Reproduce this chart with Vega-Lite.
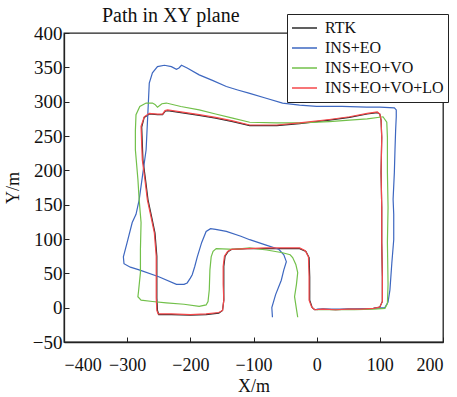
{
  "$schema": "https://vega.github.io/schema/vega-lite/v6.json",
  "width": 379,
  "height": 309,
  "autosize": {"type": "none"},
  "padding": {"left": 64, "top": 33, "right": 14, "bottom": 55},
  "background": "white",
  "config": {
    "font": "Liberation Serif",
    "view": {"stroke": "#222", "strokeWidth": 1.3},
    "axis": {"domainColor": "#222", "tickColor": "#222", "labelColor": "#111", "titleColor": "#111", "labelFont": "Liberation Serif", "titleFont": "Liberation Serif", "grid": false, "titleFontWeight": "normal"}
  },
  "title": {"text": "Path in XY plane", "anchor": "start", "frame": "group", "dx": 38, "dy": 20, "fontSize": 20, "font": "Liberation Serif", "fontWeight": "normal", "color": "#111", "offset": 8},
  "data": {"values": [
    {"s":"RTK","i":0,"x":-4,"y":-3},{"s":"RTK","i":1,"x":10,"y":-2},{"s":"RTK","i":2,"x":30,"y":-3},{"s":"RTK","i":3,"x":50,"y":-2},{"s":"RTK","i":4,"x":70,"y":-2},{"s":"RTK","i":5,"x":90,"y":-1},{"s":"RTK","i":6,"x":100,"y":1},{"s":"RTK","i":7,"x":104,"y":9},{"s":"RTK","i":8,"x":104,"y":45},{"s":"RTK","i":9,"x":103,"y":95},{"s":"RTK","i":10,"x":103,"y":146},{"s":"RTK","i":11,"x":102,"y":197},{"s":"RTK","i":12,"x":103,"y":248},{"s":"RTK","i":13,"x":102,"y":273},{"s":"RTK","i":14,"x":100,"y":282},{"s":"RTK","i":15,"x":96,"y":284},{"s":"RTK","i":16,"x":80,"y":282},{"s":"RTK","i":17,"x":52,"y":277},{"s":"RTK","i":18,"x":20,"y":273},{"s":"RTK","i":19,"x":-27,"y":268},{"s":"RTK","i":20,"x":-63,"y":265},{"s":"RTK","i":21,"x":-106,"y":265},{"s":"RTK","i":22,"x":-133,"y":271},{"s":"RTK","i":23,"x":-160,"y":276},{"s":"RTK","i":24,"x":-186,"y":280},{"s":"RTK","i":25,"x":-215,"y":284},{"s":"RTK","i":26,"x":-236,"y":287},{"s":"RTK","i":27,"x":-240,"y":286},{"s":"RTK","i":28,"x":-244,"y":281},{"s":"RTK","i":29,"x":-252,"y":281},{"s":"RTK","i":30,"x":-265,"y":282},{"s":"RTK","i":31,"x":-273,"y":277},{"s":"RTK","i":32,"x":-277,"y":263},{"s":"RTK","i":33,"x":-276,"y":238},{"s":"RTK","i":34,"x":-275,"y":215},{"s":"RTK","i":35,"x":-271,"y":187},{"s":"RTK","i":36,"x":-267,"y":157},{"s":"RTK","i":37,"x":-261,"y":131},{"s":"RTK","i":38,"x":-256,"y":109},{"s":"RTK","i":39,"x":-253,"y":75},{"s":"RTK","i":40,"x":-253,"y":51},{"s":"RTK","i":41,"x":-253,"y":14},{"s":"RTK","i":42,"x":-252,"y":-4},{"s":"RTK","i":43,"x":-250,"y":-10},{"s":"RTK","i":44,"x":-230,"y":-10},{"s":"RTK","i":45,"x":-200,"y":-11},{"s":"RTK","i":46,"x":-175,"y":-10},{"s":"RTK","i":47,"x":-155,"y":-8},{"s":"RTK","i":48,"x":-149,"y":-4},{"s":"RTK","i":49,"x":-147,"y":11},{"s":"RTK","i":50,"x":-147,"y":34},{"s":"RTK","i":51,"x":-147,"y":60},{"s":"RTK","i":52,"x":-145,"y":75},{"s":"RTK","i":53,"x":-140,"y":82},{"s":"RTK","i":54,"x":-134,"y":85},{"s":"RTK","i":55,"x":-110,"y":86},{"s":"RTK","i":56,"x":-80,"y":86},{"s":"RTK","i":57,"x":-50,"y":86},{"s":"RTK","i":58,"x":-27,"y":86},{"s":"RTK","i":59,"x":-17,"y":82},{"s":"RTK","i":60,"x":-12,"y":73},{"s":"RTK","i":61,"x":-11,"y":45},{"s":"RTK","i":62,"x":-11,"y":11},{"s":"RTK","i":63,"x":-7,"y":0},{"s":"RTK","i":64,"x":-3,"y":-3},

    {"s":"INS+EO","i":100,"x":0,"y":-2},{"s":"INS+EO","i":101,"x":30,"y":-2},{"s":"INS+EO","i":102,"x":60,"y":-2},{"s":"INS+EO","i":103,"x":90,"y":-1},{"s":"INS+EO","i":104,"x":108,"y":0},{"s":"INS+EO","i":105,"x":113,"y":8},{"s":"INS+EO","i":106,"x":116,"y":26},{"s":"INS+EO","i":107,"x":119,"y":65},{"s":"INS+EO","i":108,"x":122,"y":99},{"s":"INS+EO","i":109,"x":122,"y":136},{"s":"INS+EO","i":110,"x":121,"y":158},{"s":"INS+EO","i":111,"x":123,"y":197},{"s":"INS+EO","i":112,"x":124,"y":230},{"s":"INS+EO","i":113,"x":125,"y":258},{"s":"INS+EO","i":114,"x":126,"y":278},{"s":"INS+EO","i":115,"x":126,"y":288},{"s":"INS+EO","i":116,"x":123,"y":291},{"s":"INS+EO","i":117,"x":100,"y":292},{"s":"INS+EO","i":118,"x":79,"y":292},{"s":"INS+EO","i":119,"x":40,"y":293},{"s":"INS+EO","i":120,"x":0,"y":293},{"s":"INS+EO","i":121,"x":-27,"y":295},{"s":"INS+EO","i":122,"x":-54,"y":298},{"s":"INS+EO","i":123,"x":-80,"y":305},{"s":"INS+EO","i":124,"x":-106,"y":312},{"s":"INS+EO","i":125,"x":-125,"y":317},{"s":"INS+EO","i":126,"x":-143,"y":322},{"s":"INS+EO","i":127,"x":-165,"y":331},{"s":"INS+EO","i":128,"x":-186,"y":339},{"s":"INS+EO","i":129,"x":-205,"y":349},{"s":"INS+EO","i":130,"x":-214,"y":353},{"s":"INS+EO","i":131,"x":-218,"y":349},{"s":"INS+EO","i":132,"x":-222,"y":347},{"s":"INS+EO","i":133,"x":-230,"y":351},{"s":"INS+EO","i":134,"x":-241,"y":353},{"s":"INS+EO","i":135,"x":-252,"y":351},{"s":"INS+EO","i":136,"x":-260,"y":342},{"s":"INS+EO","i":137,"x":-265,"y":327},{"s":"INS+EO","i":138,"x":-267,"y":288},{"s":"INS+EO","i":139,"x":-270,"y":230},{"s":"INS+EO","i":140,"x":-275,"y":197},{"s":"INS+EO","i":141,"x":-281,"y":157},{"s":"INS+EO","i":142,"x":-286,"y":136},{"s":"INS+EO","i":143,"x":-292,"y":124},{"s":"INS+EO","i":144,"x":-300,"y":95},{"s":"INS+EO","i":145,"x":-306,"y":74},{"s":"INS+EO","i":146,"x":-305,"y":64},{"s":"INS+EO","i":147,"x":-295,"y":59},{"s":"INS+EO","i":148,"x":-281,"y":55},{"s":"INS+EO","i":149,"x":-250,"y":45},{"s":"INS+EO","i":150,"x":-222,"y":34},{"s":"INS+EO","i":151,"x":-210,"y":34},{"s":"INS+EO","i":152,"x":-205,"y":36},{"s":"INS+EO","i":153,"x":-200,"y":43},{"s":"INS+EO","i":154,"x":-197,"y":48},{"s":"INS+EO","i":155,"x":-193,"y":60},{"s":"INS+EO","i":156,"x":-189,"y":74},{"s":"INS+EO","i":157,"x":-182,"y":95},{"s":"INS+EO","i":158,"x":-175,"y":111},{"s":"INS+EO","i":159,"x":-168,"y":115},{"s":"INS+EO","i":160,"x":-160,"y":114},{"s":"INS+EO","i":161,"x":-143,"y":111},{"s":"INS+EO","i":162,"x":-120,"y":104},{"s":"INS+EO","i":163,"x":-106,"y":99},{"s":"INS+EO","i":164,"x":-80,"y":91},{"s":"INS+EO","i":165,"x":-60,"y":85},{"s":"INS+EO","i":166,"x":-52,"y":77},{"s":"INS+EO","i":167,"x":-48,"y":67},{"s":"INS+EO","i":168,"x":-52,"y":55},{"s":"INS+EO","i":169,"x":-56,"y":40},{"s":"INS+EO","i":170,"x":-65,"y":19},{"s":"INS+EO","i":171,"x":-71,"y":0},{"s":"INS+EO","i":172,"x":-70,"y":-14},

    {"s":"INS+EO+VO","i":200,"x":0,"y":-3},{"s":"INS+EO+VO","i":201,"x":30,"y":-3},{"s":"INS+EO+VO","i":202,"x":60,"y":-3},{"s":"INS+EO+VO","i":203,"x":90,"y":-2},{"s":"INS+EO+VO","i":204,"x":108,"y":-1},{"s":"INS+EO+VO","i":205,"x":112,"y":6},{"s":"INS+EO+VO","i":206,"x":113,"y":34},{"s":"INS+EO+VO","i":207,"x":112,"y":95},{"s":"INS+EO+VO","i":208,"x":113,"y":146},{"s":"INS+EO+VO","i":209,"x":112,"y":197},{"s":"INS+EO+VO","i":210,"x":112,"y":248},{"s":"INS+EO+VO","i":211,"x":111,"y":270},{"s":"INS+EO+VO","i":212,"x":105,"y":278},{"s":"INS+EO+VO","i":213,"x":80,"y":275},{"s":"INS+EO+VO","i":214,"x":52,"y":273},{"s":"INS+EO+VO","i":215,"x":20,"y":271},{"s":"INS+EO+VO","i":216,"x":-27,"y":269},{"s":"INS+EO+VO","i":217,"x":-63,"y":269},{"s":"INS+EO+VO","i":218,"x":-106,"y":270},{"s":"INS+EO+VO","i":219,"x":-133,"y":276},{"s":"INS+EO+VO","i":220,"x":-160,"y":282},{"s":"INS+EO+VO","i":221,"x":-186,"y":288},{"s":"INS+EO+VO","i":222,"x":-215,"y":293},{"s":"INS+EO+VO","i":223,"x":-238,"y":298},{"s":"INS+EO+VO","i":224,"x":-245,"y":297},{"s":"INS+EO+VO","i":225,"x":-252,"y":292},{"s":"INS+EO+VO","i":226,"x":-256,"y":296},{"s":"INS+EO+VO","i":227,"x":-260,"y":298},{"s":"INS+EO+VO","i":228,"x":-270,"y":298},{"s":"INS+EO+VO","i":229,"x":-280,"y":293},{"s":"INS+EO+VO","i":230,"x":-286,"y":281},{"s":"INS+EO+VO","i":231,"x":-287,"y":258},{"s":"INS+EO+VO","i":232,"x":-287,"y":230},{"s":"INS+EO+VO","i":233,"x":-283,"y":187},{"s":"INS+EO+VO","i":234,"x":-281,"y":157},{"s":"INS+EO+VO","i":235,"x":-278,"y":124},{"s":"INS+EO+VO","i":236,"x":-279,"y":85},{"s":"INS+EO+VO","i":237,"x":-279,"y":51},{"s":"INS+EO+VO","i":238,"x":-282,"y":24},{"s":"INS+EO+VO","i":239,"x":-283,"y":16},{"s":"INS+EO+VO","i":240,"x":-278,"y":11},{"s":"INS+EO+VO","i":241,"x":-260,"y":9},{"s":"INS+EO+VO","i":242,"x":-238,"y":7},{"s":"INS+EO+VO","i":243,"x":-210,"y":5},{"s":"INS+EO+VO","i":244,"x":-186,"y":2},{"s":"INS+EO+VO","i":245,"x":-175,"y":4},{"s":"INS+EO+VO","i":246,"x":-172,"y":9},{"s":"INS+EO+VO","i":247,"x":-170,"y":26},{"s":"INS+EO+VO","i":248,"x":-169,"y":55},{"s":"INS+EO+VO","i":249,"x":-167,"y":74},{"s":"INS+EO+VO","i":250,"x":-164,"y":82},{"s":"INS+EO+VO","i":251,"x":-159,"y":86},{"s":"INS+EO+VO","i":252,"x":-130,"y":85},{"s":"INS+EO+VO","i":253,"x":-106,"y":87},{"s":"INS+EO+VO","i":254,"x":-79,"y":84},{"s":"INS+EO+VO","i":255,"x":-54,"y":80},{"s":"INS+EO+VO","i":256,"x":-42,"y":77},{"s":"INS+EO+VO","i":257,"x":-38,"y":73},{"s":"INS+EO+VO","i":258,"x":-33,"y":63},{"s":"INS+EO+VO","i":259,"x":-30,"y":51},{"s":"INS+EO+VO","i":260,"x":-32,"y":34},{"s":"INS+EO+VO","i":261,"x":-35,"y":16},{"s":"INS+EO+VO","i":262,"x":-32,"y":-2},{"s":"INS+EO+VO","i":263,"x":-30,"y":-14},

    {"s":"INS+EO+VO+LO","i":300,"x":-3,"y":-3},{"s":"INS+EO+VO+LO","i":301,"x":10,"y":-2},{"s":"INS+EO+VO+LO","i":302,"x":30,"y":-3},{"s":"INS+EO+VO+LO","i":303,"x":50,"y":-2},{"s":"INS+EO+VO+LO","i":304,"x":70,"y":-2},{"s":"INS+EO+VO+LO","i":305,"x":90,"y":-1},{"s":"INS+EO+VO+LO","i":306,"x":100,"y":1},{"s":"INS+EO+VO+LO","i":307,"x":104,"y":9},{"s":"INS+EO+VO+LO","i":308,"x":104,"y":45},{"s":"INS+EO+VO+LO","i":309,"x":103,"y":95},{"s":"INS+EO+VO+LO","i":310,"x":103,"y":146},{"s":"INS+EO+VO+LO","i":311,"x":102,"y":197},{"s":"INS+EO+VO+LO","i":312,"x":103,"y":248},{"s":"INS+EO+VO+LO","i":313,"x":102,"y":273},{"s":"INS+EO+VO+LO","i":314,"x":100,"y":282},{"s":"INS+EO+VO+LO","i":315,"x":96,"y":285},{"s":"INS+EO+VO+LO","i":316,"x":80,"y":283},{"s":"INS+EO+VO+LO","i":317,"x":52,"y":278},{"s":"INS+EO+VO+LO","i":318,"x":20,"y":274},{"s":"INS+EO+VO+LO","i":319,"x":-27,"y":269},{"s":"INS+EO+VO+LO","i":320,"x":-63,"y":266},{"s":"INS+EO+VO+LO","i":321,"x":-106,"y":266},{"s":"INS+EO+VO+LO","i":322,"x":-133,"y":272},{"s":"INS+EO+VO+LO","i":323,"x":-160,"y":277},{"s":"INS+EO+VO+LO","i":324,"x":-186,"y":281},{"s":"INS+EO+VO+LO","i":325,"x":-215,"y":285},{"s":"INS+EO+VO+LO","i":326,"x":-236,"y":288},{"s":"INS+EO+VO+LO","i":327,"x":-240,"y":287},{"s":"INS+EO+VO+LO","i":328,"x":-244,"y":282},{"s":"INS+EO+VO+LO","i":329,"x":-252,"y":282},{"s":"INS+EO+VO+LO","i":330,"x":-265,"y":283},{"s":"INS+EO+VO+LO","i":331,"x":-273,"y":278},{"s":"INS+EO+VO+LO","i":332,"x":-278,"y":264},{"s":"INS+EO+VO+LO","i":333,"x":-277,"y":238},{"s":"INS+EO+VO+LO","i":334,"x":-276,"y":215},{"s":"INS+EO+VO+LO","i":335,"x":-272,"y":187},{"s":"INS+EO+VO+LO","i":336,"x":-268,"y":157},{"s":"INS+EO+VO+LO","i":337,"x":-262,"y":131},{"s":"INS+EO+VO+LO","i":338,"x":-257,"y":109},{"s":"INS+EO+VO+LO","i":339,"x":-254,"y":75},{"s":"INS+EO+VO+LO","i":340,"x":-254,"y":51},{"s":"INS+EO+VO+LO","i":341,"x":-254,"y":14},{"s":"INS+EO+VO+LO","i":342,"x":-253,"y":-4},{"s":"INS+EO+VO+LO","i":343,"x":-251,"y":-9},{"s":"INS+EO+VO+LO","i":344,"x":-230,"y":-9},{"s":"INS+EO+VO+LO","i":345,"x":-200,"y":-10},{"s":"INS+EO+VO+LO","i":346,"x":-175,"y":-9},{"s":"INS+EO+VO+LO","i":347,"x":-155,"y":-7},{"s":"INS+EO+VO+LO","i":348,"x":-149,"y":-4},{"s":"INS+EO+VO+LO","i":349,"x":-147,"y":11},{"s":"INS+EO+VO+LO","i":350,"x":-148,"y":34},{"s":"INS+EO+VO+LO","i":351,"x":-148,"y":60},{"s":"INS+EO+VO+LO","i":352,"x":-146,"y":75},{"s":"INS+EO+VO+LO","i":353,"x":-141,"y":82},{"s":"INS+EO+VO+LO","i":354,"x":-135,"y":85},{"s":"INS+EO+VO+LO","i":355,"x":-110,"y":86},{"s":"INS+EO+VO+LO","i":356,"x":-80,"y":87},{"s":"INS+EO+VO+LO","i":357,"x":-50,"y":87},{"s":"INS+EO+VO+LO","i":358,"x":-27,"y":87},{"s":"INS+EO+VO+LO","i":359,"x":-18,"y":83},{"s":"INS+EO+VO+LO","i":360,"x":-13,"y":74},{"s":"INS+EO+VO+LO","i":361,"x":-12,"y":45},{"s":"INS+EO+VO+LO","i":362,"x":-12,"y":11},{"s":"INS+EO+VO+LO","i":363,"x":-8,"y":1},{"s":"INS+EO+VO+LO","i":364,"x":-3,"y":-3}
  ]},
  "mark": {"type": "line", "strokeWidth": 1.2, "clip": true},
  "encoding": {
    "x": {"field": "x", "type": "quantitative", "scale": {"domain": [-400, 200], "nice": false, "zero": false},
      "axis": {"values": [-400, -300, -200, -100, 0, 100, 200], "tickSize": -5, "labelFontSize": 18, "labelPadding": 19, "title": "X/m", "titleFontSize": 18, "titlePadding": 3, "domainWidth": 1.3}},
    "y": {"field": "y", "type": "quantitative", "scale": {"domain": [-50, 400], "nice": false, "zero": false},
      "axis": {"values": [-50, 0, 50, 100, 150, 200, 250, 300, 350, 400], "tickSize": -5, "labelFontSize": 19, "labelPadding": 7, "title": "Y/m", "titleFontSize": 18, "titlePadding": 10, "domainWidth": 1.3}},
    "color": {"field": "s", "type": "nominal",
      "scale": {"domain": ["RTK", "INS+EO", "INS+EO+VO", "INS+EO+VO+LO"], "range": ["#2b2b2b", "#3d67c0", "#72c04a", "#f5474a"]},
      "legend": {"orient": "none", "legendX": 223, "legendY": -19, "title": null, "strokeColor": "#222", "fillColor": "white", "padding": 4, "symbolType": "stroke", "symbolSize": 625, "symbolStrokeWidth": 1.5, "labelFontSize": 16, "labelFont": "Liberation Serif", "labelColor": "#111", "labelOffset": 7, "clipHeight": 20, "rowPadding": 0, "cornerRadius": 0}},
    "order": {"field": "i", "type": "quantitative"}
  }
}
